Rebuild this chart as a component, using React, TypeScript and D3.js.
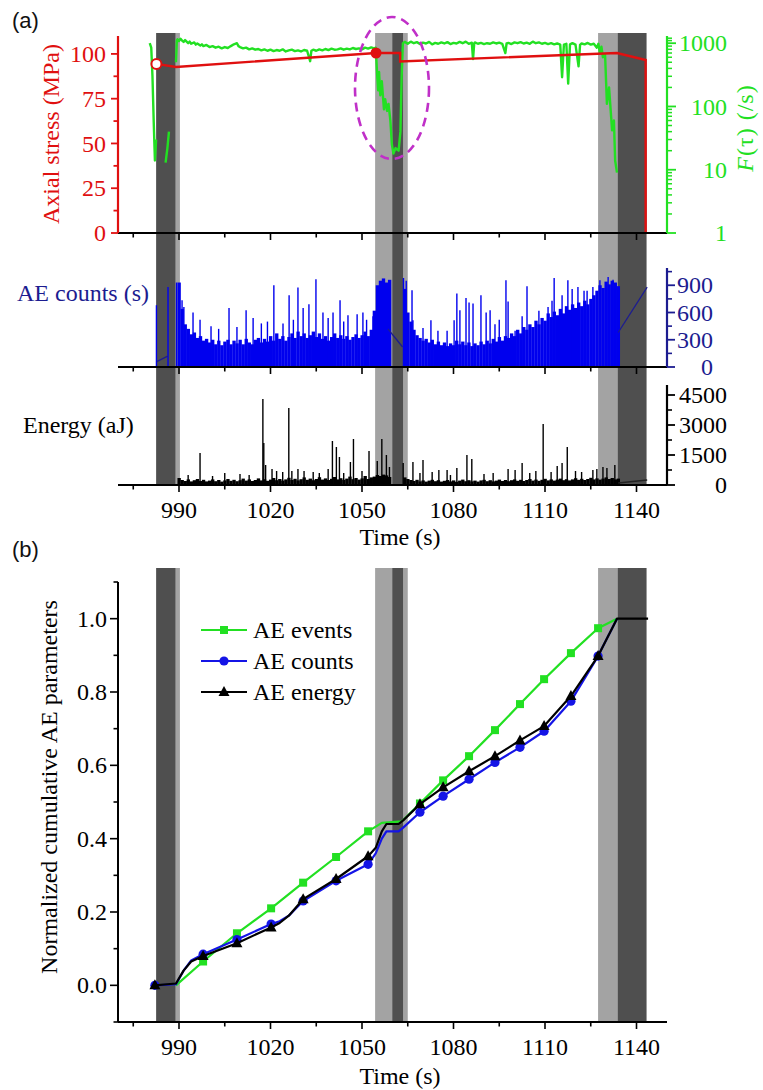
import React from 'react';
import * as d3 from 'd3';

// ---------- shaded stages (time, s) ----------
const bandsDark: [number, number][] = [[982.5, 988.9], [1059.9, 1063.5], [1133.8, 1143.3]];
const bandsLight: [number, number][] = [[988.9, 990.3], [1054.3, 1059.9], [1063.5, 1065], [1127.4, 1133.8]];

// ---------- axis ticks ----------
const xTicks = [990, 1020, 1050, 1080, 1110, 1140];
const xMinor = [975, 1005, 1035, 1065, 1095, 1125];
const stressTicks = [0, 25, 50, 75, 100];
const stressMinor = [12.5, 37.5, 62.5, 87.5];
const fTicks = [1, 10, 100, 1000];
const countTicks = [0, 300, 600, 900];
const countMinor = [150, 450, 750, 1050];
const energyTicks = [0, 1500, 3000, 4500];
const energyMinor = [750, 2250, 3750];
const normTicks = [0.0, 0.2, 0.4, 0.6, 0.8, 1.0];
const normMinor = [-0.1, 0.1, 0.3, 0.5, 0.7, 0.9, 1.1];

// ---------- (a) axial stress (MPa) ----------
const stress: [number, number][] = [
  [982.6, 94.4], [989, 92.7], [1054.6, 100.5], [1062.5, 100.5], [1062.5, 95.8],
  [1133.6, 100.5], [1143, 96.6], [1143, 0],
];
const stressMarkOpen: [number, number] = [982.6, 94.4];
const stressMarkFilled: [number, number] = [1054.6, 100.5];

// ---------- (a) F(tau) (/s), three recorded pieces ----------
const fTauA: [number, number][] = [
  [980.4, 1000], [980.9, 850], [981.3, 300], [981.7, 60], [982.1, 14], [982.5, 30],
];
const fTauB: [number, number][] = [
  [985.6, 13], [986.2, 22], [986.7, 40],
];
const fTauC: [number, number][] = [
  [989.0, 500], [989.3, 1100],
  [989.5, 1150], [990, 1080], [990.5, 1180], [991, 1100], [991.5, 1050], [992, 1120], [993, 1000],
  [993.5, 1060], [994, 980], [995, 1030], [995.5, 950], [996, 990], [997, 920], [997.5, 960],
  [998, 900], [999, 940], [1000, 870], [1001, 900], [1002, 850], [1003, 880], [1004, 830],
  [1005, 870], [1006, 840], [1007, 900], [1008, 960], [1009, 1000], [1009.5, 900], [1010, 870],
  [1011, 830], [1012, 850], [1013, 800], [1014, 830], [1015, 790], [1016, 810], [1017, 770],
  [1018, 800], [1019, 760], [1020, 790], [1021, 750], [1022, 780], [1023, 760], [1024, 800],
  [1025, 740], [1026, 770], [1027, 790], [1028, 750], [1029, 770], [1030, 740], [1031, 780],
  [1032, 760], [1033, 520], [1033.4, 760], [1034, 790], [1035, 760], [1036, 800], [1037, 770],
  [1038, 810], [1039, 780], [1040, 820], [1041, 790], [1042, 800], [1043, 830], [1044, 790],
  [1045, 820], [1046, 800], [1047, 840], [1048, 810], [1049, 830], [1050, 800], [1051, 850],
  [1052, 820], [1053, 860], [1054, 830],
  [1054.5, 850], [1055, 300], [1055.3, 180], [1055.6, 350], [1056, 150], [1056.5, 250],
  [1057.2, 90], [1057.6, 130], [1058.2, 85], [1058.7, 110], [1059.3, 60], [1059.8, 25],
  [1060.3, 18], [1061, 22], [1062, 20], [1062.6, 40], [1063, 300], [1063.4, 1000],
  [1064, 1050], [1065, 980], [1066, 1060], [1067, 1000], [1068, 1040], [1069, 970], [1070, 1020],
  [1071, 990], [1072, 1050], [1073, 960], [1074, 1010], [1075, 980], [1076, 1030], [1077, 990],
  [1078, 1040], [1079, 970], [1080, 1010], [1081, 990], [1082, 1050], [1083, 1000], [1084, 1060],
  [1085, 980], [1086, 1020], [1086.4, 560], [1086.8, 1000], [1087, 1030], [1088, 980], [1089, 1010],
  [1090, 970], [1091, 1000], [1092, 980], [1093, 1030], [1094, 990], [1095, 1020], [1096, 980],
  [1097, 700], [1097.4, 990], [1098, 1010], [1099, 970], [1100, 1030], [1101, 1000], [1102, 1040],
  [1103, 990], [1104, 1020], [1105, 980], [1106, 1060], [1107, 1000], [1108, 1030], [1109, 980],
  [1110, 1010], [1111, 970], [1112, 1000], [1113, 960], [1114, 990], [1115, 950], [1115.6, 290],
  [1116.2, 950], [1117, 980], [1117.6, 230], [1118.2, 960], [1119, 1000], [1120, 950], [1121, 430],
  [1121.5, 940], [1122, 990], [1123, 960], [1124, 1010], [1125, 950], [1126, 980], [1127, 850],
  [1127.5, 980], [1128, 700], [1128.5, 880], [1129, 600], [1129.7, 650], [1130.3, 110], [1131, 200],
  [1132, 42], [1132.6, 60], [1133, 14], [1133.6, 9],
];

// ---------- (a) AE counts ----------
const countsStartA = 990;
const countsBaseA = [
  930, 640, 470, 420, 360, 380, 320, 340, 290, 310,
  270, 300, 250, 290, 240, 280, 300, 250, 290, 260,
  300, 250, 310, 270, 250, 300, 320, 270, 310, 280,
  340, 290, 370, 310, 340, 290, 330, 370, 320, 390,
  340, 370, 320, 350, 390, 330, 370, 310, 340, 290,
  330, 370, 320, 350, 310, 340, 300, 330, 360, 320,
  350, 390, 340, 410, 620, 900, 950, 975, 930, 960,
];
const countsStartB = 1064;
const countsBaseB = [
  860, 600, 500, 410, 350, 320, 290, 310, 270, 300,
  250, 280, 240, 270, 230, 260, 240, 290, 250, 280,
  240, 270, 230, 260, 240, 280, 250, 290, 260, 310,
  280, 330, 290, 340, 320, 370, 340, 410, 370, 440,
  410, 470, 440, 510, 470, 540, 510, 590, 550, 610,
  570, 640, 590, 670, 630, 690, 650, 710, 670, 730,
  690, 750, 790, 840, 900, 870, 940, 910, 950, 930, 890,
];
const countsSpikes: [number, number][] = [
  [982.6, 680], [986.4, 880], [989.2, 930], [991, 735], [991.6, 660], [994.6, 600], [996.9, 520],
  [1000.5, 450], [1003, 420], [1006.4, 650], [1009, 440], [1012, 625], [1014.3, 540], [1017, 480],
  [1019, 500], [1021.1, 900], [1024.1, 480], [1026.1, 790], [1027.5, 520], [1029, 875], [1030.7, 650],
  [1032.6, 690], [1034.9, 965], [1037.2, 600], [1038.9, 540], [1040.5, 600], [1042.8, 735],
  [1044, 500], [1045.4, 570], [1048.4, 580], [1050.3, 600], [1051.5, 520], [1053.6, 560],
  [1063.6, 980], [1064.5, 950], [1066.4, 845], [1066.7, 515], [1070, 430], [1072.6, 515], [1074.9, 400],
  [1077.9, 400], [1080.2, 515], [1081.1, 810], [1082.1, 625], [1084.1, 760], [1085.1, 710],
  [1086.4, 700], [1089, 790], [1090.7, 600], [1092, 625], [1093.6, 470], [1095, 520], [1097.2, 955],
  [1097.9, 720], [1100.2, 400], [1102.5, 560], [1104.1, 890], [1106.1, 330], [1108, 620], [1111, 660],
  [1112.3, 730], [1113, 980], [1115.6, 790], [1117.5, 955], [1118.9, 860], [1120.8, 880],
  [1122.8, 840], [1123.8, 840], [1125.7, 880], [1128, 955], [1130.7, 990], [1132.3, 960],
];
const countsGaps: [number, number][][] = [
  [[982.7, 60], [986.3, 120]],
  [[1058.5, 420], [1063.3, 220]],
  [[1134, 380], [1143.5, 880]],
];

// ---------- (a) AE energy (aJ) ----------
const energyStartA = 990;
const energyBaseA = [
  350, 250, 200, 280, 180, 240, 300, 200, 260, 180,
  220, 280, 190, 250, 170, 230, 300, 210, 260, 190,
  240, 320, 220, 280, 200, 250, 330, 230, 290, 210,
  270, 350, 240, 300, 220, 280, 360, 250, 310, 230,
  290, 380, 260, 320, 240, 300, 390, 270, 330, 250,
  310, 400, 280, 340, 260, 320, 420, 290, 350, 270,
  330, 450, 300, 380, 420, 500, 450, 520, 480, 400,
];
const energyStartB = 1064;
const energyBaseB = [
  380, 300, 250, 200, 260, 180, 230, 170, 220, 260,
  190, 240, 170, 210, 250, 180, 230, 160, 220, 270,
  190, 240, 180, 220, 170, 230, 260, 190, 240, 180,
  220, 270, 200, 250, 190, 240, 280, 210, 260, 200,
  250, 300, 220, 270, 210, 260, 310, 230, 280, 220,
  270, 320, 240, 290, 230, 280, 340, 260, 310, 250,
  300, 360, 280, 330, 270, 320, 380, 300, 350, 280, 320,
];
const energySpikes: [number, number][] = [
  [993, 500], [996.9, 1600], [1001, 450], [1005, 600], [1010, 550], [1013, 500], [1017.5, 4300],
  [1017.8, 2100], [1018.4, 1000], [1020.5, 800], [1022, 700], [1024, 650], [1026, 3850], [1027, 700],
  [1029, 800], [1031, 700], [1034, 650], [1036, 600], [1038.9, 800], [1040.3, 2200], [1041.6, 1900],
  [1042.6, 1400], [1044, 600], [1046.2, 1150], [1047.2, 2300], [1050, 700], [1052.3, 1700],
  [1055, 1200], [1056.5, 2300], [1058, 1500], [1059, 900], [1063.5, 1100], [1066.7, 1150],
  [1069, 600], [1070, 1250], [1073, 650], [1075.2, 750], [1077.9, 750], [1079, 500], [1081.1, 850],
  [1084.4, 1500], [1086, 1300], [1090, 550], [1093, 600], [1097.9, 800], [1100.2, 750],
  [1102.5, 1100], [1105, 600], [1107, 700], [1109.4, 3050], [1112, 650], [1114, 950], [1115.6, 1100],
  [1117.3, 1900], [1120, 700], [1122, 650], [1125.7, 750], [1127, 800], [1129, 900], [1130.3, 850],
  [1132.9, 1000],
];
const energyGaps: [number, number][][] = [[[1134, 100], [1143.5, 250]]];

// ---------- (b) normalized cumulative AE parameters ----------
const eventsLine: [number, number][] = [
  [989, 0], [997.9, 0.065], [1009, 0.142], [1020.2, 0.21], [1030.7, 0.28], [1041.5, 0.35],
  [1052, 0.42], [1056.5, 0.443], [1063, 0.447], [1069, 0.496], [1076.6, 0.559], [1085.1, 0.625],
  [1093.6, 0.696], [1101.8, 0.767], [1109.7, 0.835], [1118.5, 0.906], [1127.4, 0.974], [1133.6, 1.0],
];
const countsLine: [number, number][] = [
  [982.1, 0], [989, 0.003], [991.5, 0.04], [994, 0.068], [997.9, 0.085], [1009, 0.125],
  [1020.2, 0.167], [1023, 0.175], [1026, 0.19], [1030.7, 0.23], [1041.5, 0.285], [1052, 0.33],
  [1054.5, 0.36], [1056.5, 0.4], [1058, 0.42], [1062, 0.42], [1063.5, 0.43], [1069, 0.472],
  [1076.6, 0.516], [1085.1, 0.562], [1093.6, 0.608], [1101.8, 0.649], [1109.7, 0.693],
  [1118.5, 0.775], [1127.4, 0.898], [1133.6, 1.0],
];
const energyLine: [number, number][] = [
  [982.1, 0], [989, 0.005], [991.5, 0.04], [994, 0.065], [997.9, 0.08], [1009, 0.115],
  [1020.2, 0.158], [1023, 0.17], [1026, 0.19], [1030.7, 0.235], [1041.5, 0.29], [1052, 0.352],
  [1054.5, 0.375], [1056.5, 0.42], [1058, 0.44], [1062, 0.44], [1063.5, 0.45], [1069, 0.494],
  [1076.6, 0.54], [1085.1, 0.584], [1093.6, 0.625], [1101.8, 0.668], [1109.7, 0.707],
  [1118.5, 0.789], [1127.4, 0.898], [1133.6, 1.0], [1143.8, 1.0],
];
const markerTimes = [982.1, 997.9, 1009, 1020.2, 1030.7, 1041.5, 1052, 1069, 1076.6, 1085.1, 1093.6, 1101.8, 1109.7, 1118.5, 1127.4];
const legendLabels = ['AE events', 'AE counts', 'AE energy'];

const SERIF = '"Liberation Serif", "Times New Roman", serif';
const SANS = '"Liberation Sans", Arial, sans-serif';
const DARK = '#4f4f4f';
const LIGHT = '#a3a3a3';
const RED = '#e01010';
const GREEN = '#22e022';
const BLUE = '#0000ee';
const NAVY = '#1c1c90';

export default function App() {
  const x = d3.scaleLinear().domain([970, 1150]).range([118, 667]);
  const yS = d3.scaleLinear().domain([0, 110]).range([233, 36]);
  const yF = d3.scaleLog().domain([1, 1300]).range([233, 36]);
  const yC = d3.scaleLinear().domain([0, 1090]).range([367, 268]);
  const yE = d3.scaleLinear().domain([0, 5000]).range([485, 385]);
  const yN = d3.scaleLinear().domain([-0.1, 1.1]).range([1022, 582]);

  const bw = x(1) - x(0);
  const lineF = d3.line<[number, number]>().x(d => x(d[0])).y(d => yF(d[1]));
  const lineS = d3.line<[number, number]>().x(d => x(d[0])).y(d => yS(d[1]));
  const lineN = d3.line<[number, number]>().x(d => x(d[0])).y(d => yN(d[1]));

  const fMinor: number[] = [];
  [1, 10, 100].forEach(dec => { for (let k = 2; k <= 9; k++) fMinor.push(dec * k); });
  fMinor.push(1100, 1200);

  const bands = (y0: number, y1: number) => (
    <g>
      {bandsLight.map((b, i) => (
        <rect key={'l' + i} x={x(b[0])} y={y0} width={x(b[1]) - x(b[0])} height={y1 - y0} fill={LIGHT} />
      ))}
      {bandsDark.map((b, i) => (
        <rect key={'d' + i} x={x(b[0])} y={y0} width={x(b[1]) - x(b[0])} height={y1 - y0} fill={DARK} />
      ))}
    </g>
  );

  const xAxis = (y: number, labels: boolean, labelY: number) => (
    <g>
      <line x1={118} x2={667} y1={y} y2={y} stroke="#000" strokeWidth={2} />
      {xTicks.map(t => <line key={'M' + t} x1={x(t)} x2={x(t)} y1={y} y2={y + 7} stroke="#000" strokeWidth={1.6} />)}
      {xMinor.map(t => <line key={'m' + t} x1={x(t)} x2={x(t)} y1={y} y2={y + 4.5} stroke="#000" strokeWidth={1.6} />)}
      {labels && xTicks.map(t => (
        <text key={'t' + t} x={x(t)} y={labelY} textAnchor="middle" fontSize={24} fill="#000">{String(t)}</text>
      ))}
    </g>
  );

  const baseBars = (start: number, vals: number[], y: d3.ScaleLinear<number, number>, color: string, key: string) =>
    vals.map((v, i) => (
      <rect key={key + i} x={x(start + i) - bw / 2} y={y(v)} width={bw + 0.3} height={y(0) - y(v)} fill={color} />
    ));

  const spikes = (arr: [number, number][], y: d3.ScaleLinear<number, number>, color: string, key: string) =>
    arr.map((d, i) => (
      <line key={key + i} x1={x(d[0])} x2={x(d[0])} y1={y(0)} y2={y(d[1])} stroke={color} strokeWidth={1.4} />
    ));

  const sq = (cx: number, cy: number, c: string, k: string) => <rect key={k} x={cx - 4} y={cy - 4} width={8} height={8} fill={c} />;
  const ci = (cx: number, cy: number, c: string, k: string) => <circle key={k} cx={cx} cy={cy} r={4.6} fill={c} />;
  const tri = (cx: number, cy: number, c: string, k: string) => (
    <path key={k} d={`M${cx},${cy - 6}L${cx + 5.5},${cy + 4}L${cx - 5.5},${cy + 4}Z`} fill={c} />
  );
  const isMark = (t: number) => markerTimes.includes(t);

  const series = [
    { data: eventsLine, color: GREEN, mark: sq },
    { data: countsLine, color: '#1414e6', mark: ci },
    { data: energyLine, color: '#000', mark: tri },
  ];

  return (
    <svg width={763} height={1090} style={{ position: 'absolute', left: 0, top: 0, background: '#fff' }} fontFamily={SERIF}>
      <rect x={0} y={0} width={763} height={1090} fill="#fff" />
      {/* ===================== (a) ===================== */}
      <text x={12} y={28} fontFamily={SANS} fontSize={22} fill="#111">(a)</text>
      {bands(33, 485)}

      {/* F(tau) */}
      {[fTauA, fTauB, fTauC].map((seg, i) => (
        <path key={'f' + i} d={lineF(seg) || ''} fill="none" stroke={GREEN} strokeWidth={2.4} strokeLinejoin="round" />
      ))}
      {/* stress */}
      <path d={lineS(stress) || ''} fill="none" stroke={RED} strokeWidth={2.4} />
      <circle cx={x(stressMarkOpen[0])} cy={yS(stressMarkOpen[1])} r={5} fill="#fff" stroke={RED} strokeWidth={2} />
      <circle cx={x(stressMarkFilled[0])} cy={yS(stressMarkFilled[1])} r={5.5} fill={RED} />

      {/* AE counts */}
      {baseBars(countsStartA, countsBaseA, yC, BLUE, 'ca')}
      {baseBars(countsStartB, countsBaseB, yC, BLUE, 'cb')}
      {spikes(countsSpikes, yC, BLUE, 'cs')}
      {countsGaps.map((g, i) => (
        <line key={'cg' + i} x1={x(g[0][0])} y1={yC(g[0][1])} x2={x(g[1][0])} y2={yC(g[1][1])} stroke={NAVY} strokeWidth={1.3} />
      ))}

      {/* energy */}
      {baseBars(energyStartA, energyBaseA, yE, '#000', 'ea')}
      {baseBars(energyStartB, energyBaseB, yE, '#000', 'eb')}
      {spikes(energySpikes, yE, '#000', 'es')}
      {energyGaps.map((g, i) => (
        <line key={'eg' + i} x1={x(g[0][0])} y1={yE(g[0][1])} x2={x(g[1][0])} y2={yE(g[1][1])} stroke="#222" strokeWidth={1.3} />
      ))}

      {/* x axes of the stacked panels */}
      {xAxis(233, false, 0)}
      {xAxis(367, false, 0)}
      {xAxis(485, true, 518)}
      <text x={400} y={545} textAnchor="middle" fontSize={24}>Time (s)</text>

      {/* left stress axis */}
      <line x1={118} x2={118} y1={36} y2={233} stroke={RED} strokeWidth={2.2} />
      {stressTicks.map(v => (
        <g key={'st' + v}>
          <line x1={111} x2={118} y1={yS(v)} y2={yS(v)} stroke={RED} strokeWidth={1.8} />
          <text x={106} y={yS(v)} dy="0.34em" textAnchor="end" fontSize={24} fill={RED}>{String(v)}</text>
        </g>
      ))}
      {stressMinor.map(v => <line key={'sm' + v} x1={113.5} x2={118} y1={yS(v)} y2={yS(v)} stroke={RED} strokeWidth={1.8} />)}
      <text transform={`translate(51,134) rotate(-90)`} textAnchor="middle" dy="0.34em" fontSize={24} fill={RED}>Axial stress (MPa)</text>

      {/* right F(tau) log axis */}
      <line x1={667} x2={667} y1={36} y2={233} stroke={GREEN} strokeWidth={2.2} />
      {fTicks.map(v => (
        <g key={'ft' + v}>
          <line x1={667} x2={676} y1={yF(v)} y2={yF(v)} stroke={GREEN} strokeWidth={1.8} />
          <text x={727} y={yF(v)} dy="0.34em" textAnchor="end" fontSize={24} fill={GREEN}>{String(v)}</text>
        </g>
      ))}
      {fMinor.map(v => <line key={'fm' + v} x1={667} x2={672} y1={yF(v)} y2={yF(v)} stroke={GREEN} strokeWidth={1.5} />)}
      <text transform={`translate(745,128) rotate(-90)`} textAnchor="middle" dy="0.34em" fontSize={24} fill={GREEN} letterSpacing={1}>
        <tspan fontStyle="italic">F</tspan>(τ) (/s)
      </text>

      {/* right counts axis */}
      <line x1={667} x2={667} y1={268} y2={367} stroke={NAVY} strokeWidth={2.2} />
      {countTicks.map(v => (
        <g key={'ct' + v}>
          <line x1={667} x2={675} y1={yC(v)} y2={yC(v)} stroke={NAVY} strokeWidth={1.8} />
          <text x={713} y={yC(v)} dy="0.34em" textAnchor="end" fontSize={24} fill={NAVY}>{String(v)}</text>
        </g>
      ))}
      {countMinor.map(v => <line key={'cm' + v} x1={667} x2={672} y1={yC(v)} y2={yC(v)} stroke={NAVY} strokeWidth={1.6} />)}
      <text x={17} y={301} fontSize={24} fill={NAVY}>AE counts (s)</text>

      {/* right energy axis */}
      <line x1={667} x2={667} y1={385} y2={485} stroke="#000" strokeWidth={2.2} />
      {energyTicks.map(v => (
        <g key={'et' + v}>
          <line x1={667} x2={675} y1={yE(v)} y2={yE(v)} stroke="#000" strokeWidth={1.8} />
          <text x={727} y={yE(v)} dy="0.34em" textAnchor="end" fontSize={24} fill="#000">{String(v)}</text>
        </g>
      ))}
      {energyMinor.map(v => <line key={'em' + v} x1={667} x2={672} y1={yE(v)} y2={yE(v)} stroke="#000" strokeWidth={1.6} />)}
      <text x={23} y={433} fontSize={24} fill="#000">Energy (aJ)</text>

      {/* highlight ellipse */}
      <ellipse cx={392} cy={88} rx={37} ry={71} fill="none" stroke="#c030c8" strokeWidth={2.6} strokeDasharray="9 6" />

      {/* ===================== (b) ===================== */}
      <text x={12} y={557} fontFamily={SANS} fontSize={22} fill="#111">(b)</text>
      {bands(568, 1022)}
      {series.map((s, si) => (
        <g key={'s' + si}>
          <path d={lineN(s.data) || ''} fill="none" stroke={s.color} strokeWidth={2.2} strokeLinejoin="round" />
          {s.data.filter(d => isMark(d[0])).map((d, i) => s.mark(x(d[0]), yN(d[1]), s.color, 'mk' + si + '-' + i))}
        </g>
      ))}
      {xAxis(1022, true, 1055)}
      <text x={400} y={1084} textAnchor="middle" fontSize={24}>Time (s)</text>
      <line x1={118} x2={118} y1={582} y2={1022} stroke="#000" strokeWidth={2} />
      {normTicks.map(v => (
        <g key={'nt' + v}>
          <line x1={110} x2={118} y1={yN(v)} y2={yN(v)} stroke="#000" strokeWidth={1.6} />
          <text x={107} y={yN(v)} dy="0.34em" textAnchor="end" fontSize={24}>{v.toFixed(1)}</text>
        </g>
      ))}
      {normMinor.map(v => <line key={'nm' + v} x1={113.5} x2={118} y1={yN(v)} y2={yN(v)} stroke="#000" strokeWidth={1.6} />)}
      <text transform={`translate(49,787) rotate(-90)`} textAnchor="middle" dy="0.34em" fontSize={24}>Normalized cumulative AE parameters</text>

      {/* legend */}
      {series.map((s, i) => {
        const ly = 630 + i * 31;
        return (
          <g key={'lg' + i}>
            <line x1={201} x2={247} y1={ly} y2={ly} stroke={s.color} strokeWidth={2.2} />
            {s.mark(224, ly, s.color, 'lm' + i)}
            <text x={253} y={ly + 8} fontSize={24}>{legendLabels[i]}</text>
          </g>
        );
      })}
    </svg>
  );
}
